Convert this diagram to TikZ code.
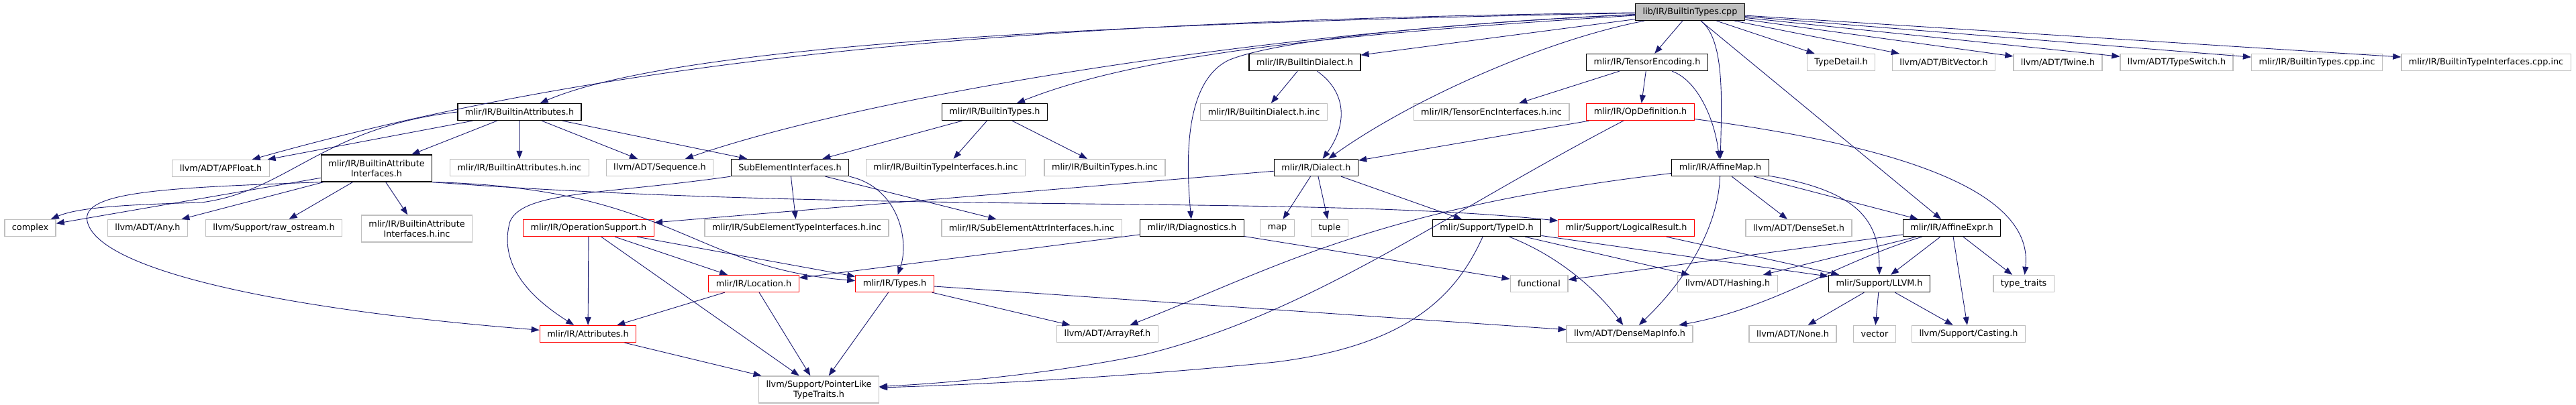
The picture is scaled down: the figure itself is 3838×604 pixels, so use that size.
\documentclass[tikz,border=0pt]{standalone}
\usepackage{fontspec}
\setmainfont{DejaVu Sans}
\usepackage{xcolor}
\usetikzlibrary{arrows.meta}
\definecolor{midnight}{HTML}{191970}
\definecolor{grey75}{HTML}{BFBFBF}

\begin{document}
\begin{tikzpicture}[x=1pt, y=-1pt,
    box/.style={rectangle, draw, line width=1.3pt, fill=white, inner xsep=11pt, inner ysep=2pt, minimum height=25pt, text centered, font=\fontsize{12.8}{15}\selectfont},
    docbox/.style={box, draw=black},
    extbox/.style={box, draw=grey75},
    cutbox/.style={box, draw=red},
    rootbox/.style={box, draw=black, fill=grey75},
    twoline/.style={align=center, minimum height=40pt},
    dep/.style={-{Triangle[length=12pt, width=9pt]}, draw=midnight, line width=0.9pt}
  ]
    \useasboundingbox (0,0) rectangle (3838,604);

    % Root file
    \node[rootbox] (cpp) at (2518,18) {lib/IR/BuiltinTypes.cpp};

    % Second row
    \node[docbox] (bdialect) at (1944,93) {mlir/IR/BuiltinDialect.h};
    \node[docbox] (tenc) at (2454,93) {mlir/IR/TensorEncoding.h};
    \node[extbox] (tdetail) at (2743,93) {TypeDetail.h};
    \node[extbox] (bitvec) at (2896,93) {llvm/ADT/BitVector.h};
    \node[extbox] (twine) at (3066,93) {llvm/ADT/Twine.h};
    \node[extbox] (tswitch) at (3243,93) {llvm/ADT/TypeSwitch.h};
    \node[extbox] (btcppinc) at (3452,93) {mlir/IR/BuiltinTypes.cpp.inc};
    \node[extbox] (btifcppinc) at (3704,93) {mlir/IR/BuiltinTypeInterfaces.cpp.inc};

    % Third row
    \node[docbox] (battr) at (774,167) {mlir/IR/BuiltinAttributes.h};
    \node[docbox] (btypes) at (1482,167) {mlir/IR/BuiltinTypes.h};
    \node[extbox] (bdialinc) at (1883,167) {mlir/IR/BuiltinDialect.h.inc};
    \node[extbox] (tencinc) at (2222,167) {mlir/IR/TensorEncInterfaces.h.inc};
    \node[cutbox] (opdef) at (2444,167) {mlir/IR/OpDefinition.h};

    % Fourth row
    \node[extbox] (apfloat) at (329,251) {llvm/ADT/APFloat.h};
    \node[docbox, twoline] (baif) at (561,251) {mlir/IR/BuiltinAttribute\\Interfaces.h};
    \node[extbox] (battrinc) at (774,250) {mlir/IR/BuiltinAttributes.h.inc};
    \node[extbox] (sequence) at (983,250) {llvm/ADT/Sequence.h};
    \node[docbox] (subel) at (1177,250) {SubElementInterfaces.h};
    \node[extbox] (btifinc) at (1409,250) {mlir/IR/BuiltinTypeInterfaces.h.inc};
    \node[extbox] (btypesinc) at (1646,250) {mlir/IR/BuiltinTypes.h.inc};
    \node[docbox] (dialect) at (1961,250) {mlir/IR/Dialect.h};
    \node[docbox] (affmap) at (2563,250) {mlir/IR/AffineMap.h};

    % Fifth row
    \node[extbox] (complex) at (45,340) {complex};
    \node[extbox] (any) at (220,340) {llvm/ADT/Any.h};
    \node[extbox] (rawos) at (408,340) {llvm/Support/raw\_ostream.h};
    \node[extbox, twoline] (baifinc) at (621,341) {mlir/IR/BuiltinAttribute\\Interfaces.h.inc};
    \node[cutbox] (opsupp) at (877,340) {mlir/IR/OperationSupport.h};
    \node[extbox] (subtypeinc) at (1187,340) {mlir/IR/SubElementTypeInterfaces.h.inc};
    \node[extbox] (subattrinc) at (1537,340) {mlir/IR/SubElementAttrInterfaces.h.inc};
    \node[docbox] (diag) at (1776,340) {mlir/IR/Diagnostics.h};
    \node[extbox] (map) at (1903,340) {map};
    \node[extbox] (tuple) at (1981,340) {tuple};
    \node[docbox] (typeid) at (2215,340) {mlir/Support/TypeID.h};
    \node[cutbox] (logres) at (2423,340) {mlir/Support/LogicalResult.h};
    \node[extbox] (denseset) at (2680,340) {llvm/ADT/DenseSet.h};
    \node[docbox] (affexpr) at (2908,340) {mlir/IR/AffineExpr.h};

    % Sixth row
    \node[cutbox] (location) at (1123,423) {mlir/IR/Location.h};
    \node[cutbox] (types) at (1333,423) {mlir/IR/Types.h};
    \node[extbox] (functional) at (2293,423) {functional};
    \node[extbox] (hashing) at (2574,423) {llvm/ADT/Hashing.h};
    \node[docbox] (llvmh) at (2800,423) {mlir/Support/LLVM.h};
    \node[extbox] (typetraits) at (3015,423) {type\_traits};

    % Seventh row
    \node[cutbox] (attrs) at (876,498) {mlir/IR/Attributes.h};
    \node[extbox] (arrayref) at (1650,498) {llvm/ADT/ArrayRef.h};
    \node[extbox] (densemapinfo) at (2428,498) {llvm/ADT/DenseMapInfo.h};
    \node[extbox] (none) at (2671,498) {llvm/ADT/None.h};
    \node[extbox] (vector) at (2793,498) {vector};
    \node[extbox] (casting) at (2933,498) {llvm/Support/Casting.h};

    % Last row
    \node[extbox, twoline] (ptrlike) at (1220,581) {llvm/Support/PointerLike\\TypeTraits.h};

    % Includes of the root file
    \draw[dep] (cpp) .. controls (1500,30) and (900,90) .. (apfloat);
    \draw[dep] (cpp) .. controls (1600,35) and (1000,70) .. (battr);
    \draw[dep] (cpp) .. controls (1900,45) and (1300,140) .. (sequence);
    \draw[dep] (cpp) .. controls (2000,50) and (1700,80) .. (btypes);
    \draw[dep] (cpp) .. controls (2150,35) and (1900,60) .. (1830,90) .. controls (1770,120) and (1765,220) .. (diag);
    \draw[dep] (cpp) -- (bdialect);
    \draw[dep] (cpp) .. controls (2300,60) and (2100,150) .. (dialect);
    \draw[dep] (cpp) -- (tenc);
    \draw[dep] (cpp) .. controls (2570,60) and (2565,150) .. (affmap);
    \draw[dep] (cpp) -- (affexpr);
    \draw[dep] (cpp) -- (tdetail);
    \draw[dep] (cpp) -- (bitvec);
    \draw[dep] (cpp) -- (twine);
    \draw[dep] (cpp) -- (tswitch);
    \draw[dep] (cpp) -- (btcppinc);
    \draw[dep] (cpp) -- (btifcppinc);

    % BuiltinAttributes.h
    \draw[dep] (battr) -- (apfloat);
    \draw[dep] (battr.west) .. controls (480,190) and (430,285) .. (300,302) .. controls (200,305) and (120,308) .. (complex);
    \draw[dep] (battr) -- (baif);
    \draw[dep] (battr) -- (battrinc);
    \draw[dep] (battr) -- (sequence);
    \draw[dep] (battr) -- (subel);

    % BuiltinAttributeInterfaces.h
    \draw[dep] (baif) -- (complex);
    \draw[dep] (baif) -- (any);
    \draw[dep] (baif) -- (rawos);
    \draw[dep] (baif) -- (baifinc);
    \draw[dep] (baif.south west) .. controls (250,280) and (120,285) .. (130,330) .. controls (145,400) and (400,460) .. (attrs);
    \draw[dep] (baif.south east) .. controls (1300,320) and (1950,290) .. (logres);
    \draw[dep] (baif.south east) .. controls (1000,280) and (1030,400) .. (types);

    % SubElementInterfaces.h
    \draw[dep] (subel.south west) .. controls (900,290) and (780,285) .. (760,330) .. controls (740,400) and (800,450) .. (attrs);
    \draw[dep] (subel) -- (subtypeinc);
    \draw[dep] (subel) -- (subattrinc);
    \draw[dep] (subel.south east) .. controls (1340,280) and (1355,360) .. (types);

    % BuiltinTypes.h and BuiltinDialect.h
    \draw[dep] (btypes) -- (subel);
    \draw[dep] (btypes) -- (btifinc);
    \draw[dep] (btypes) -- (btypesinc);
    \draw[dep] (bdialect) -- (bdialinc);
    \draw[dep] (bdialect) .. controls (2010,140) and (2005,190) .. (dialect);

    % TensorEncoding.h and OpDefinition.h
    \draw[dep] (tenc) -- (tencinc);
    \draw[dep] (tenc) -- (opdef);
    \draw[dep] (tenc) .. controls (2530,120) and (2555,180) .. (affmap);
    \draw[dep] (opdef) -- (dialect);
    \draw[dep] (opdef) .. controls (2150,320) and (1950,470) .. (1700,530) .. controls (1550,560) and (1400,572) .. (ptrlike);
    \draw[dep] (opdef) .. controls (2850,220) and (3030,290) .. (typetraits);

    % Dialect.h and Diagnostics.h
    \draw[dep] (dialect) -- (opsupp);
    \draw[dep] (dialect) -- (map);
    \draw[dep] (dialect) -- (tuple);
    \draw[dep] (dialect) -- (typeid);
    \draw[dep] (diag) -- (location);
    \draw[dep] (diag) -- (functional);

    % OperationSupport.h, Location.h, Types.h, Attributes.h
    \draw[dep] (opsupp) -- (attrs);
    \draw[dep] (opsupp) -- (ptrlike);
    \draw[dep] (opsupp) -- (location);
    \draw[dep] (opsupp) -- (types);
    \draw[dep] (location) -- (attrs);
    \draw[dep] (location) -- (ptrlike);
    \draw[dep] (types) -- (ptrlike);
    \draw[dep] (types) -- (arrayref);
    \draw[dep] (types) -- (densemapinfo);
    \draw[dep] (attrs) -- (ptrlike);

    % AffineMap.h
    \draw[dep] (affmap) .. controls (2050,310) and (1900,400) .. (arrayref);
    \draw[dep] (affmap) .. controls (2560,340) and (2510,420) .. (densemapinfo);
    \draw[dep] (affmap) -- (denseset);
    \draw[dep] (affmap) .. controls (2770,285) and (2800,330) .. (llvmh);
    \draw[dep] (affmap) -- (affexpr);

    % AffineExpr.h
    \draw[dep] (affexpr) -- (functional);
    \draw[dep] (affexpr) -- (hashing);
    \draw[dep] (affexpr) .. controls (2740,390) and (2640,460) .. (densemapinfo);
    \draw[dep] (affexpr) -- (llvmh);
    \draw[dep] (affexpr) -- (casting);
    \draw[dep] (affexpr) -- (typetraits);

    % TypeID.h and LogicalResult.h
    \draw[dep] (typeid) .. controls (2170,440) and (2100,515) .. (1900,540) .. controls (1700,560) and (1500,572) .. (ptrlike);
    \draw[dep] (typeid) .. controls (2330,385) and (2385,440) .. (densemapinfo);
    \draw[dep] (typeid) -- (hashing);
    \draw[dep] (typeid) -- (llvmh);
    \draw[dep] (logres) -- (llvmh);

    % LLVM.h
    \draw[dep] (llvmh) -- (none);
    \draw[dep] (llvmh) -- (vector);
    \draw[dep] (llvmh) -- (casting);

  \end{tikzpicture}
\end{document}
